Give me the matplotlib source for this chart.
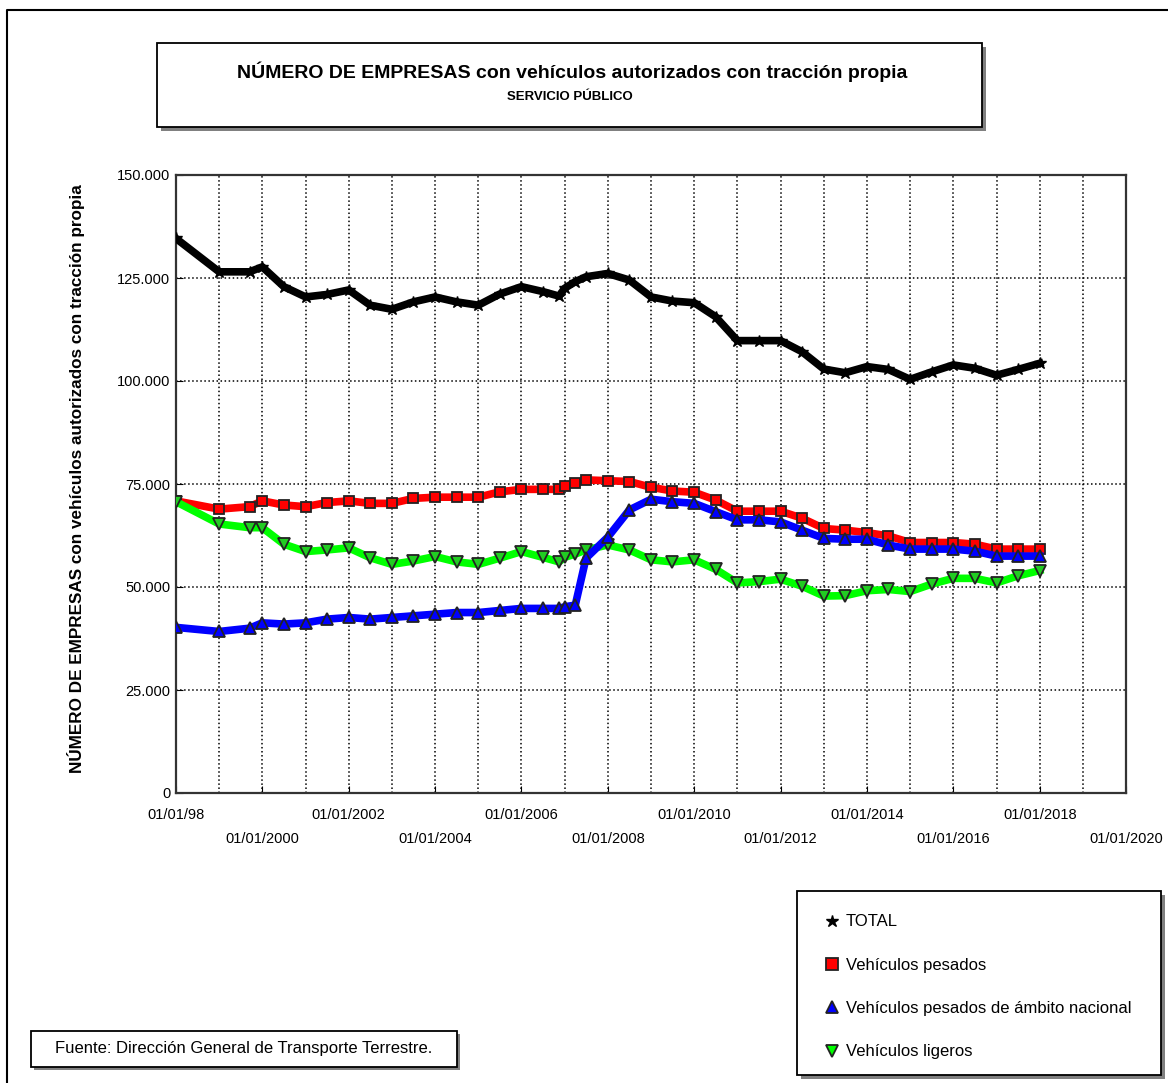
import matplotlib
matplotlib.use('Agg')
import matplotlib.pyplot as plt
import matplotlib.dates as mdates
from matplotlib.patches import Rectangle
from matplotlib.lines import Line2D
import numpy as np
import pandas as pd

plt.rcParams['font.family'] = ['Liberation Sans', 'DejaVu Sans']

# data (values in number of companies)
fechas = pd.to_datetime([
    '1998-01-01', '1999-01-01', '1999-09-15', '2000-01-01', '2000-07-01',
    '2001-01-01', '2001-07-01', '2002-01-01', '2002-07-01', '2003-01-01',
    '2003-07-01', '2004-01-01', '2004-07-01', '2005-01-01', '2005-07-01',
    '2006-01-01', '2006-07-01', '2006-11-15', '2007-01-01', '2007-04-01',
    '2007-07-01', '2008-01-01', '2008-07-01', '2009-01-01', '2009-07-01',
    '2010-01-01', '2010-07-01', '2011-01-01', '2011-07-01', '2012-01-01',
    '2012-07-01', '2013-01-01', '2013-07-01', '2014-01-01', '2014-07-01',
    '2015-01-01', '2015-07-01', '2016-01-01', '2016-07-01', '2017-01-01',
    '2017-07-01', '2018-01-01'])

total = [134600, 126500, 126500, 127700, 122900, 120400, 121000, 122100, 118400, 117400,
         119200, 120400, 119200, 118400, 121100, 122900, 121700, 120600, 122500, 124100,
         125300, 126100, 124500, 120400, 119400, 119000, 115600, 109800, 109800, 109800,
         107100, 102900, 102000, 103500, 102800, 100400, 102200, 103900, 103100, 101400,
         102800, 104300]

pesados = [70900, 68900, 69500, 70900, 69900, 69500, 70500, 70900, 70300, 70300,
           71500, 71800, 71800, 71800, 73100, 73700, 73700, 73700, 74600, 75200,
           76000, 75800, 75600, 74200, 73300, 73000, 71100, 68400, 68400, 68400,
           66700, 64200, 63800, 63200, 62400, 60800, 60800, 60800, 60400, 59200,
           59200, 59200]

nacional = [40200, 39200, 40000, 41300, 41000, 41300, 42200, 42600, 42200, 42600,
            43000, 43400, 43800, 43800, 44300, 44800, 44800, 44800, 45200, 45600,
            57000, 62100, 68700, 71300, 70700, 70300, 68300, 66300, 66300, 65800,
            63800, 61800, 61600, 61600, 60200, 59200, 59200, 59200, 58700, 57500,
            57500, 57500]

ligeros = [70700, 65300, 64400, 64400, 60400, 58600, 59000, 59500, 57100, 55500,
           56300, 57400, 56100, 55500, 57000, 58600, 57200, 56100, 57200, 58000,
           59000, 60200, 59000, 56600, 56100, 56600, 54300, 51000, 51300, 51900,
           50200, 47800, 47900, 49100, 49400, 48900, 50700, 52100, 52100, 51000,
           52700, 54000]

titulo = 'NÚMERO DE EMPRESAS con vehículos autorizados con tracción propia'
subtitulo = 'SERVICIO PÚBLICO'
fuente = 'Fuente: Dirección General de Transporte Terrestre.'
nombres = ['TOTAL', 'Vehículos pesados', 'Vehículos pesados de ámbito nacional', 'Vehículos ligeros']

W, H = 1168, 1083
fig = plt.figure(figsize=(W / 100, H / 100), dpi=100)

def fx(x):
    return x / W

def fy(y):
    return 1 - y / H

def caja(x0, y0, x1, y1, sombra=4):
    fig.patches.append(Rectangle((fx(x0 + sombra), fy(y1 + sombra)), (x1 - x0) / W, (y1 - y0) / H,
                                 facecolor='#808080', edgecolor='none', transform=fig.transFigure))
    fig.patches.append(Rectangle((fx(x0), fy(y1)), (x1 - x0) / W, (y1 - y0) / H,
                                 facecolor='white', edgecolor='black', lw=1.3, transform=fig.transFigure))

# outer frame (only top/left visible)
fig.add_artist(Line2D([fx(7), fx(7), fx(1168)], [fy(1083), fy(10), fy(10)], color='black', lw=1.5,
                      transform=fig.transFigure))

ax = fig.add_axes([fx(176), fy(793), (1126 - 176) / W, (793 - 175) / H])

ax.plot(fechas, total, color='black', lw=5.5, marker='*', ms=9, mfc='black', mec='black', zorder=3)
ax.plot(fechas, pesados, color='#ff0000', lw=5.5, marker='s', ms=7.5, mfc='#ff0000', mec='#222222', mew=1.3, zorder=4)
ax.plot(fechas, ligeros, color='#00ff00', lw=5.5, marker='v', ms=8, mfc='#22cc22', mec='#222222', mew=1.3, zorder=5)
ax.plot(fechas, nacional, color='#0000ff', lw=5.5, marker='^', ms=8, mfc='#0000ff', mec='#222222', mew=1.3, zorder=6)

ax.set_xlim(pd.Timestamp('1998-01-01'), pd.Timestamp('2020-01-01'))
ax.set_ylim(0, 150000)
ax.set_yticks(np.arange(0, 150001, 25000))
ax.set_yticklabels(['0', '25.000', '50.000', '75.000', '100.000', '125.000', '150.000'], fontsize=10.5)

ticks_x = [pd.Timestamp(f'{a}-01-01') for a in range(1998, 2021, 2)]
etiquetas_x = ['01/01/98'] + [f'01/01/{a}' for a in range(2000, 2021, 2)]
ax.set_xticks(ticks_x)
ax.set_xticklabels(etiquetas_x, fontsize=10.5)
ax.xaxis.set_minor_locator(mdates.YearLocator(1))
for i, t in enumerate(ax.xaxis.get_major_ticks()):
    t.set_pad(11 if i % 2 == 0 else 28)

ax.tick_params(axis='both', which='major', direction='in', length=5, color='black')
ax.tick_params(axis='x', which='minor', length=0)
ax.tick_params(axis='y', pad=4)
ax.grid(True, which='both', axis='x', color='black', linestyle=':', lw=1.1)
ax.grid(True, which='major', axis='y', color='black', linestyle=':', lw=1.1)
ax.set_axisbelow(True)
for s in ax.spines.values():
    s.set_color('#333333')
    s.set_linewidth(1.6)

ax.set_ylabel(titulo, fontsize=12.3, fontweight='bold')
ax.yaxis.set_label_coords(-0.096, 0.509)

# title box
caja(157, 43, 982, 127)
fig.text(fx(572), fy(72), titulo, fontsize=14, fontweight='bold', ha='center', va='center')
fig.text(fx(570), fy(97), subtitulo, fontsize=9.5, fontweight='bold', ha='center', va='center')

# source box
caja(31, 1031, 457, 1067, sombra=3)
fig.text(fx(244), fy(1049), fuente, fontsize=12, ha='center', va='center')

# legend box
caja(797, 891, 1161, 1075)
handles = [
    Line2D([], [], ls='none', marker='*', ms=9, mfc='black', mec='black'),
    Line2D([], [], ls='none', marker='s', ms=8, mfc='#ff0000', mec='#222222', mew=1.3),
    Line2D([], [], ls='none', marker='^', ms=8, mfc='#0000ff', mec='#222222', mew=1.3),
    Line2D([], [], ls='none', marker='v', ms=8, mfc='#00ff00', mec='#222222', mew=1.3),
]
fig.legend(handles, nombres, loc='upper left', bbox_to_anchor=(fx(815), fy(906)),
           frameon=False, fontsize=12, labelspacing=1.7, handlelength=1.0,
           handletextpad=0.35, borderpad=0)

fig.savefig('out.png', dpi=100)
